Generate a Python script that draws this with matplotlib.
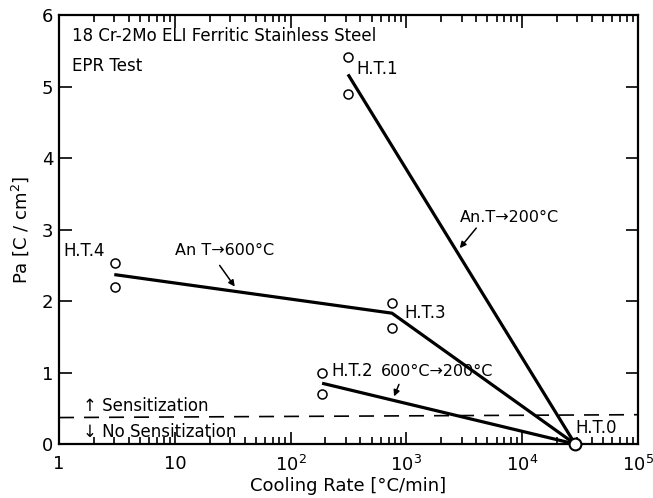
import matplotlib
matplotlib.use("Agg")
import matplotlib.pyplot as plt
from matplotlib.ticker import LogLocator, FixedLocator, NullFormatter

plt.rcParams['font.family'] = ['DejaVu Sans']

# measured points (cooling rate in degC/min, Pa in C/cm2)
ht1_x = [313, 313]
ht1_y = [5.41, 4.90]
ht2_x = [187, 187]
ht2_y = [0.99, 0.70]
ht3_x = [750, 750]
ht3_y = [1.97, 1.62]
ht4_x = [3.05, 3.05]
ht4_y = [2.53, 2.19]
ht0_x = [28600]
ht0_y = [0.0]

# fitted lines
line_200_x = [313, 28600]
line_200_y = [5.17, 0.0]
line_600_x = [3.0, 750, 28600]
line_600_y = [2.37, 1.83, 0.0]
line_600_200_x = [187, 28600]
line_600_200_y = [0.85, 0.0]

# sensitization limit
limit_x = [1, 1e5]
limit_y = [0.37, 0.41]

x_ticks = [1, 10, 1e2, 1e3, 1e4, 1e5]
x_labels = ['1', '10', '$10^2$', '$10^3$', '$10^4$', '$10^5$']
y_ticks = [0, 1, 2, 3, 4, 5, 6]

fig = plt.figure(figsize=(6.53, 4.98), dpi=100)
ax = fig.add_axes([0.0904, 0.1084, 0.8867, 0.8614])

ax.set_xscale('log')
ax.set_xlim(1, 1e5)
ax.set_ylim(0, 6)

# lines
ax.plot(line_200_x, line_200_y, color='black', lw=2.3, solid_capstyle='butt')
ax.plot(line_600_x, line_600_y, color='black', lw=2.3, solid_capstyle='butt')
ax.plot(line_600_200_x, line_600_200_y, color='black', lw=2.3, solid_capstyle='butt')
ax.plot(limit_x, limit_y, color='black', lw=1.2, dashes=(9, 6))

# points
for xs, ys in [(ht1_x, ht1_y), (ht2_x, ht2_y), (ht3_x, ht3_y), (ht4_x, ht4_y)]:
    ax.plot(xs, ys, 'o', ms=6.5, mfc='white', mec='black', mew=1.1, ls='none')
ax.plot(ht0_x, ht0_y, 'o', ms=8.5, mfc='white', mec='black', mew=1.5, ls='none',
        clip_on=False, zorder=5)

# texts
fs = 12
fs_arrow = 11.5
ax.text(1.3, 5.70, '18 Cr-2Mo ELI Ferritic Stainless Steel', fontsize=fs, va='center')
ax.text(1.3, 5.29, 'EPR Test', fontsize=fs, va='center')
ax.text(370, 5.24, 'H.T.1', fontsize=fs, va='center')
ax.text(1.08, 2.70, 'H.T.4', fontsize=fs, va='center')
ax.text(10, 2.70, 'An T\u2192600\u00b0C', fontsize=fs_arrow, va='center')
ax.text(960, 1.83, 'H.T.3', fontsize=fs, va='center')
ax.text(225, 1.02, 'H.T.2', fontsize=fs, va='center')
ax.text(600, 1.02, '600\u00b0C\u2192200\u00b0C', fontsize=fs_arrow, va='center')
ax.text(29000, 0.22, 'H.T.0', fontsize=fs, va='center')
ax.text(2900, 3.17, 'An.T\u2192200\u00b0C', fontsize=fs_arrow, va='center')
ax.text(1.6, 0.53, '\u2191 Sensitization', fontsize=fs, va='center')
ax.text(1.6, 0.17, '\u2193 No Sensitization', fontsize=fs, va='center')

# arrows pointing to the lines
arr = dict(arrowstyle='-|>', color='black', lw=1.1, mutation_scale=9)
ax.annotate('', xy=(2790, 2.71), xytext=(4150, 3.05), arrowprops=arr)
ax.annotate('', xy=(34, 2.17), xytext=(23.6, 2.53), arrowprops=arr)
ax.annotate('', xy=(766, 0.63), xytext=(880, 0.87), arrowprops=arr)

# axes and ticks
ax.xaxis.set_major_locator(FixedLocator(x_ticks))
ax.set_xticklabels(x_labels)
ax.xaxis.set_minor_locator(LogLocator(base=10, subs=range(2, 10)))
ax.xaxis.set_minor_formatter(NullFormatter())
ax.set_yticks(y_ticks)
ax.tick_params(which='both', direction='in', top=True, right=True, width=1.2,
               labelsize=13)
ax.tick_params(axis='x', pad=8)
ax.tick_params(axis='y', pad=4)
ax.tick_params(which='major', length=9)
ax.tick_params(which='minor', length=5)
for s in ax.spines.values():
    s.set_linewidth(1.6)

ax.set_xlabel('Cooling Rate [\u00b0C/min]', fontsize=13, labelpad=1)
ax.set_ylabel('Pa [C / cm$^2$]', fontsize=13, labelpad=8)

fig.savefig('out.png', dpi=100)
